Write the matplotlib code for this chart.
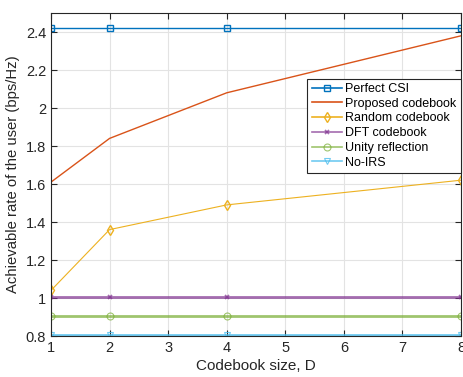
import matplotlib
matplotlib.use("Agg")
import matplotlib.pyplot as plt

D = [1, 2, 4, 8]
perfect = [2.42, 2.42, 2.42, 2.42]
proposed = [1.61, 1.84, 2.08, 2.38]
random_cb = [1.04, 1.36, 1.49, 1.62]
dft = [1.005, 1.005, 1.005, 1.005]
unity = [0.905, 0.905, 0.905, 0.905]
noirs = [0.805, 0.805, 0.805, 0.805]

plt.rcParams['font.family'] = ['Liberation Sans', 'DejaVu Sans']
fig = plt.figure(figsize=(4.64, 3.77), dpi=100)
ax = fig.add_axes([51/464, 1-336/377, (461-51)/464, (336-13)/377])

ax.plot(D, perfect, color=(0, 0.447, 0.741), lw=1, marker='s', ms=4, mfc='none', label='Perfect CSI')
ax.plot(D, proposed, color=(0.85, 0.325, 0.098), lw=1, label='Proposed codebook')
ax.plot(D, random_cb, color=(0.929, 0.694, 0.125), lw=0.8, marker='d', ms=5, mfc='none', label='Random codebook')
ax.plot(D, dft, color=(0.494, 0.184, 0.556), lw=2, alpha=0.7, marker='x', ms=3.5, mew=1.2, label='DFT codebook')
ax.plot(D, unity, color=(0.466, 0.674, 0.188), lw=2, alpha=0.7, marker='o', ms=5, mfc='none', mew=0.8, label='Unity reflection')
ax.plot(D, noirs, color=(0.301, 0.745, 0.933), lw=2, alpha=0.8, marker='v', ms=5, mfc='none', mew=0.8, label='No-IRS')

ax.set_xlim(1, 8)
ax.set_ylim(0.8, 2.5)
ax.set_xticks(range(1, 9))
ax.set_yticks([0.8, 1.0, 1.2, 1.4, 1.6, 1.8, 2.0, 2.2, 2.4])
ax.set_yticklabels(['0.8', '1', '1.2', '1.4', '1.6', '1.8', '2', '2.2', '2.4'])
ax.grid(True, color='#e3e3e3', lw=0.8)
ax.set_axisbelow(True)
ax.tick_params(direction='in', top=True, right=True, labelsize=10.5, colors='#262626', length=4)
for s in ax.spines.values():
    s.set_color('#262626')
    s.set_linewidth(0.8)
ax.set_xlabel('Codebook size, D', fontsize=11, color='#262626', labelpad=3)
ax.set_ylabel('Achievable rate of the user (bps/Hz)', fontsize=10.7, color='#262626', labelpad=4)

leg = ax.legend(loc='upper right', bbox_to_anchor=(1.0, 0.797), fontsize=9, frameon=True,
                fancybox=False, edgecolor='#262626', framealpha=1, borderpad=0.35,
                labelspacing=0.22, handlelength=2.4, handletextpad=0.3, borderaxespad=0)
leg.get_frame().set_linewidth(0.8)
for h in leg.get_lines():
    h.set_linewidth(1.2)

fig.savefig('out.png', dpi=100)
